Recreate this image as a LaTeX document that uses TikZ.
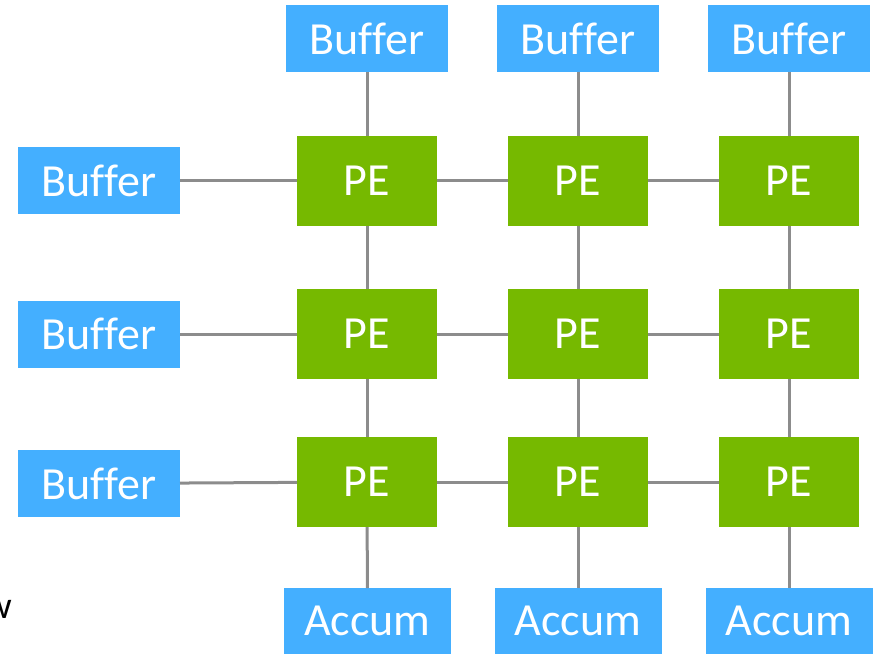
\documentclass[tikz,border=0pt]{standalone}
\usepackage{fontspec}
\setmainfont{Carlito}[Ligatures=NoCommon]
\definecolor{bufblue}{HTML}{44AFFF}
\definecolor{pegreen}{HTML}{76B900}
\definecolor{linkgray}{HTML}{8C8C8C}
\begin{document}
\begin{tikzpicture}[x=1pt,y=-1pt,
  box/.style={inner sep=0pt, outer sep=0pt, text=white,
    font=\fontsize{46}{50}\selectfont},
  buf/.style={box, fill=bufblue, minimum width=162pt, minimum height=67pt},
  acc/.style={box, fill=bufblue, minimum width=167pt, minimum height=66pt},
  pe/.style={box, fill=pegreen, minimum width=140pt, minimum height=90pt},
  link/.style={draw=linkgray, line width=3pt}]
\useasboundingbox (0,0) rectangle (878,655);

% processing elements
\foreach \c/\x in {1/367,2/578,3/789}{
  \foreach \r/\y in {1/181,2/334,3/482}{
    \node[pe] (pe\r\c) at (\x,\y) {PE};
  }
}
% column buffers on top
\node[buf] (tb1) at (367,38.5) {Buffer};
\node[buf] (tb2) at (578,38.5) {Buffer};
\node[buf] (tb3) at (789,38.5) {Buffer};
% row buffers on the left
\node[buf] (lb1) at (99,181) {Buffer};
\node[buf] (lb2) at (99,334) {Buffer};
\node[buf] (lb3) at (99,483.5) {Buffer};
% accumulators at the bottom
\node[acc] (ac1) at (367.5,621) {Accum};
\node[acc] (ac2) at (578,621) {Accum};
\node[acc] (ac3) at (789,621) {Accum};

% stray label at the lower left edge
\node[anchor=east, inner sep=0pt, font=\fontsize{38}{40}\selectfont] (w) at (12,609) {w};

% links between neighbours
\foreach \c in {1,2,3}{
  \draw[link] (tb\c) -- (pe1\c);
  \draw[link] (pe1\c) -- (pe2\c);
  \draw[link] (pe2\c) -- (pe3\c);
  \draw[link] (pe3\c) -- (ac\c);
}
\foreach \r in {1,2,3}{
  \draw[link] (lb\r) -- (pe\r1);
  \draw[link] (pe\r1) -- (pe\r2);
  \draw[link] (pe\r2) -- (pe\r3);
}
\end{tikzpicture}
\end{document}
